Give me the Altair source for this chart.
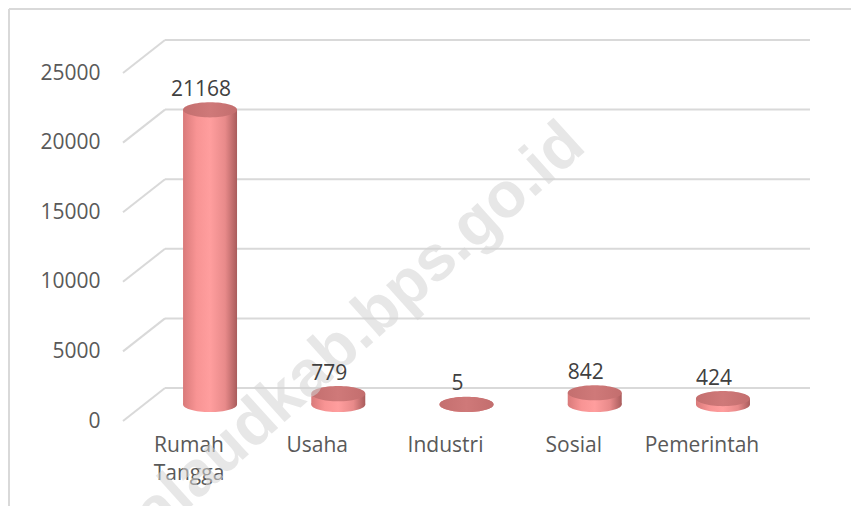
import altair as alt
import pandas as pd

# ---- data ----
categories = ["Rumah Tangga", "Usaha", "Industri", "Sosial", "Pemerintah"]
values = [21168, 779, 5, 842, 424]
y_ticks = [0, 5000, 10000, 15000, 20000, 25000]
watermark_text = "talaudkab.bps.go.id"

# ---- layout / style constants ----
W, H = 645, 348          # front-plane plot area
DX, DY = 42, -33         # depth of the 3-D box (back wall offset)
MX, MY = 21, -16.5       # mid-depth offset where cylinders sit
BAR_W = 54
FONT = "Open Sans"
GRID = "#d9d9d9"

df = pd.DataFrame({"cat": categories, "val": values})
grid_df = pd.DataFrame({"t": y_ticks})
wm_df = pd.DataFrame({"w": [watermark_text]})

xs = alt.Scale(domain=categories, paddingInner=0, paddingOuter=0.015)
ys = alt.Scale(domain=[0, 25000], nice=False, zero=True)

x_axis = alt.Axis(
    title=None, domain=False, ticks=False, labelAngle=0,
    labelFont=FONT, labelFontSize=21, labelColor="#595959",
    labelPadding=13, labelLineHeight=28, labelBaseline="top",
    labelExpr="datum.value == 'Rumah Tangga' ? ['Rumah', 'Tangga'] : datum.label",
)
y_axis = alt.Axis(
    title=None, values=y_ticks, format="d", domain=False, ticks=False, grid=False,
    labelFont=FONT, labelFontSize=21, labelColor="#595959", labelPadding=23,
)

body_grad = alt.Gradient(
    gradient="linear", x1=0, x2=1, y1=0, y2=0,
    stops=[
        alt.GradientStop(offset=0.0, color="#d97a7a"),
        alt.GradientStop(offset=0.25, color="#f89494"),
        alt.GradientStop(offset=0.5, color="#ff9e9e"),
        alt.GradientStop(offset=0.78, color="#e88a8a"),
        alt.GradientStop(offset=1.0, color="#a95c5c"),
    ],
)
top_grad = alt.Gradient(
    gradient="linear", x1=0, x2=1, y1=0, y2=0,
    stops=[
        alt.GradientStop(offset=0.0, color="#c46f6f"),
        alt.GradientStop(offset=0.5, color="#cf7979"),
        alt.GradientStop(offset=1.0, color="#c36e6e"),
    ],
)

k = 0.28
c = 0.5523
ellipse = (
    f"M -1 0 C -1 {-c*k:.4f} {-c:.4f} {-k} 0 {-k} "
    f"C {c:.4f} {-k} 1 {-c*k:.4f} 1 0 "
    f"C 1 {c*k:.4f} {c:.4f} {k} 0 {k} "
    f"C {-c:.4f} {k} -1 {c*k:.4f} -1 0 Z"
)

base = alt.Chart(df)

# chart border (top and left)
border_top = alt.Chart(wm_df).mark_rule(color=GRID, strokeWidth=2).encode(
    x=alt.value(-114), x2=alt.value(W + 200), y=alt.value(-64)
)
border_left = alt.Chart(wm_df).mark_rule(color=GRID, strokeWidth=2).encode(
    x=alt.value(-114), y=alt.value(-64), y2=alt.value(H + 200)
)

# back-wall gridlines
back_grid = alt.Chart(grid_df).mark_rule(color=GRID, strokeWidth=2, yOffset=DY).encode(
    y=alt.Y("t:Q", scale=ys, axis=y_axis),
    x=alt.value(DX), x2=alt.value(W + DX),
)
# side-wall diagonals
diag = alt.Chart(grid_df).mark_rule(color=GRID, strokeWidth=2, y2Offset=DY).encode(
    y=alt.Y("t:Q", scale=ys),
    y2=alt.Y2("t"),
    x=alt.value(0), x2=alt.value(DX),
)

x_enc = alt.X("cat:N", scale=xs, sort=categories, axis=x_axis)

bottom_cap = base.mark_point(
    shape=ellipse, size=BAR_W ** 2, filled=True, fill=body_grad, opacity=1,
    strokeWidth=0, xOffset=MX, yOffset=MY,
).encode(x=x_enc, y=alt.Y("zero:Q", scale=ys)).transform_calculate(zero="0")

body = base.mark_bar(
    size=BAR_W, fill=body_grad, xOffset=MX, x2Offset=MX, yOffset=MY, y2Offset=MY,
).encode(
    x=x_enc,
    y=alt.Y("val:Q", scale=ys),
    y2=alt.Y2("zero:Q"),
).transform_calculate(zero="0")

top_cap = base.mark_point(
    shape=ellipse, size=BAR_W ** 2, filled=True, fill=top_grad, opacity=1,
    strokeWidth=0, xOffset=MX, yOffset=MY,
).encode(x=x_enc, y=alt.Y("val:Q", scale=ys))

watermark = alt.Chart(wm_df).mark_text(
    angle=318, fontSize=64, fontWeight="bold", font="Liberation Sans",
    align="right", baseline="middle", color="#d4d4d4", opacity=0.55,
).encode(x=alt.value(452), y=alt.value(62), text="w:N")

labels = base.mark_text(
    font=FONT, fontSize=21, color="#404040", baseline="middle",
    xOffset=MX - 9, yOffset=MY - 20,
).encode(
    x=x_enc, y=alt.Y("val:Q", scale=ys), text=alt.Text("val:Q", format="d")
)

chart = alt.layer(
    border_top, border_left, back_grid, diag,
    bottom_cap, body, top_cap, watermark, labels,
).properties(
    width=W, height=H,
    autosize=alt.AutoSizeParams(type="none"),
    padding={"left": 115, "top": 65, "right": 83, "bottom": 85},
    background="white",
).configure_view(stroke=None)

chart.save("out.html", embed_options={"renderer": "svg", "actions": False})
